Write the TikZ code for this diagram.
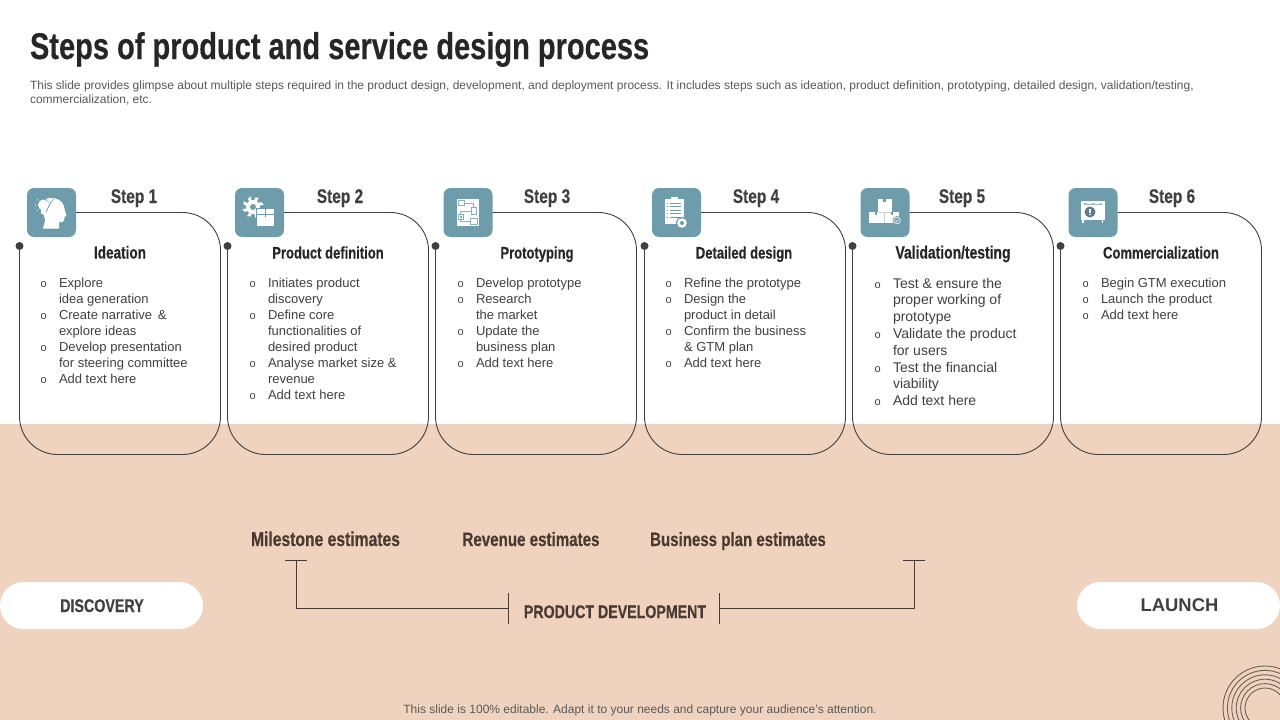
\documentclass[tikz,border=0pt]{standalone}
\usepackage{fontspec}
\setmainfont{Liberation Sans}
\newfontfamily\cond[FakeStretch=0.78,FakeBold=0.35]{Liberation Sans}
\definecolor{peach}{HTML}{EFD3BF}
\definecolor{teal1}{HTML}{6F9CAB}
\definecolor{ink}{HTML}{404040}
\definecolor{dark}{HTML}{262626}
\definecolor{brown}{HTML}{4A3A33}
\definecolor{soft}{HTML}{595959}
\tikzset{
  x=1pt,y=-1pt,
  txt/.style={inner sep=0pt,outer sep=0pt},
  iconbox/.style={txt,fill=teal1,rounded corners=7pt,minimum width=49pt,minimum height=49pt,anchor=north west},
  dotn/.style={txt,circle,fill=ink,minimum size=8pt},
  cardline/.style={draw=ink,line width=0.9pt,rounded corners=38pt},
  steplabel/.style={txt,anchor=base,text=ink,font=\cond\bfseries\fontsize{19.8}{20}\selectfont},
  headlabel/.style={txt,anchor=base,text=dark,font=\cond\bfseries\fontsize{16.7}{18}\selectfont},
  listtext/.style={txt,anchor=north west,align=left,text=ink,font=\fontsize{13}{16}\selectfont},
  bigtext/.style={txt,anchor=north west,align=left,text=ink,font=\fontsize{14}{16.8}\selectfont},
  estlabel/.style={txt,anchor=base,text=brown},
  pill/.style={txt,fill=white,rounded corners=23.5pt,minimum width=203pt,minimum height=47pt},
  bracket/.style={draw=brown,line width=0.8pt},
  ring/.style={draw=black!55!peach,line width=0.9pt},
  it/.style={draw=teal1!80,line width=0.5pt,fill=none},
}
\newcommand\bu{\rule{0pt}{12pt}\makebox[18.5pt][l]{\fontsize{11}{11}\selectfont o}}
\newcommand\bb{\rule{0pt}{13pt}\makebox[18.5pt][l]{\fontsize{11}{11}\selectfont o}}
\newcommand\ct{\hspace*{18.5pt}}
% n, left x, icon x, step cx, head cx, heading
\newcommand\stepcard[6]{%
  \node[iconbox] (icon#1) at (#3,188) {};
  \node[dotn] (dot#1) at (#2,246) {};
  \draw[cardline] (dot#1.center) -- ++(0,208.5) -- ++(201,0) -- ++(0,-242) -- (icon#1.east);
  \node[steplabel] (step#1) at (#4,203) {Step #1};
  \node[headlabel] (head#1) at (#5,258.5) {#6};
}
\begin{document}
\begin{tikzpicture}
\clip (0,0) rectangle (1280,720);
\fill[white] (0,0) rectangle (1280,424);
\fill[peach] (0,424) rectangle (1280,720);

\node[txt,anchor=base west,text=dark,font=\cond\bfseries\fontsize{37.2}{40}\selectfont] (title) at (30,59) {Steps of product and service design process};
\node[txt,anchor=north west,align=left,text=soft,font=\fontsize{12}{14}\selectfont] (desc) at (30,81) {This slide provides glimpse about multiple steps required in the product design, development, and deployment process. It includes steps such as ideation, product definition, prototyping, detailed design, validation/testing,\\commercialization, etc.};

\stepcard{1}{19.5}{27}{134}{120}{\fontsize{17.4}{18}\selectfont Ideation}
\stepcard{2}{227.5}{235}{340}{328}{Product definition}
\stepcard{3}{435.5}{443.5}{547}{537}{Prototyping}
\stepcard{4}{644.5}{652}{756}{744}{Detailed design}
\stepcard{5}{852.5}{860.5}{962}{953}{\fontsize{17.8}{18}\selectfont Validation/testing}
\stepcard{6}{1060.5}{1068.5}{1172}{1161}{Commercialization}

\node[listtext] (list1) at (40.5,275) {\bu Explore\\\ct idea generation\\\bu Create narrative \,\&\\\ct explore ideas\\\bu Develop presentation\\\ct for steering committee\\\bu Add text here};
\node[listtext] (list2) at (249.5,275) {\bu Initiates product\\\ct discovery\\\bu Define core\\\ct functionalities of\\\ct desired product\\\bu Analyse market size \&\\\ct revenue\\\bu Add text here};
\node[listtext] (list3) at (457.5,275) {\bu Develop prototype\\\bu Research\\\ct the market\\\bu Update the\\\ct business plan\\\bu Add text here};
\node[listtext] (list4) at (665.5,275) {\bu Refine the prototype\\\bu Design the\\\ct product in detail\\\bu Confirm the business\\\ct \& GTM plan\\\bu Add text here};
\node[bigtext] (list5) at (874.5,275) {\bb Test \& ensure the\\\ct proper working of\\\ct prototype\\\bb Validate the product\\\ct for users\\\bb Test the financial\\\ct viability\\\bb Add text here};
\node[listtext] (list6) at (1082.5,275) {\bu Begin GTM execution\\\bu Launch the product\\\bu Add text here};

% icon 1: head with bulb
\begin{scope}[shift={(icon1.north west)}]
  \fill[white] (19,11) .. controls (27,8) and (37,12) .. (37.5,21) .. controls (37.5,23) and (39,25) .. (39.5,27) .. controls (39,28) and (38,28) .. (37.5,29) .. controls (37.5,32) and (37,35) .. (32,34) -- (32,40.5) -- (16,40.5) -- (18,33) .. controls (18,29) and (16,26) .. (15,23) -- (22,14) -- cycle;
  \fill[white] (16.5,17) circle (5.5);
  \fill[white] (14,22) rectangle (19,26);
  \draw[teal1,line width=0.7] (19,24) -- (24,14) -- (27,11);
  \foreach \a in {100,140,180,220,60} \fill[white] (16.5,17) ++(\a:8) circle (0.7);
\end{scope}
% icon 2: gear and box
\begin{scope}[shift={(icon2.north west)}]
  \fill[white] (18,19) circle (7);
  \foreach \a in {0,45,...,315} \fill[white] (18,19) ++(\a:0) -- ++(\a+12:9.5) -- ++(\a+90:4) -- cycle;
  \fill[teal1] (18,19) circle (3);
  \fill[teal1] (20.5,19.5) rectangle (39.5,39);
  \fill[white] (22,21) rectangle (39,38);
  \fill[teal1] (22,25.5) rectangle (39,26.3);
  \fill[teal1] (29.5,21) rectangle (31,29);
\end{scope}
% icon 3: flowchart sheet
\begin{scope}[shift={(icon3.north west)}]
  \fill[white] (13,11) rectangle (35.5,38);
  \draw[it] (14.5,12.5) rectangle (21,17.5);
  \draw[it] (28,19) rectangle (33,26);
  \draw[it] (14.5,26) rectangle (20,31);
  \draw[it] (27,30) rectangle (34,36.5);
  \draw[it] (21,15) -| (30,19);
  \draw[it] (28,23) -| (17,26);
  \draw[it] (17,31) |- (27,33);
  \fill[teal1!80] (16,27.5) rectangle (18.5,29.5);
\end{scope}
% icon 4: clipboard with badge
\begin{scope}[shift={(icon4.north west)}]
  \fill[white] (12.5,11) rectangle (32,36);
  \fill[white] (19,9) rectangle (25.5,12);
  \foreach \yy in {15,18.5,22,25.5,29} {
    \draw[teal1,line width=0.6] (18,\yy) -- (29,\yy);
    \draw[teal1,line width=0.6] (14.5,\yy) -- (16,\yy);
  }
  \fill[teal1] (30,35) circle (6);
  \fill[white] (30,35) circle (4.8);
  \fill[teal1] (30,35) circle (2);
\end{scope}
% icon 5: stacked boxes
\begin{scope}[shift={(icon5.north west)}]
  \fill[white] (17,11) rectangle (31,24);
  \fill[white] (8,24) rectangle (23.5,35);
  \fill[white] (23.5,24) rectangle (38,35);
  \draw[teal1!45,line width=0.5] (23.5,24) -- (23.5,35);
  \draw[teal1!45,line width=0.5] (17,24) -- (31,24);
  \fill[teal1] (22.8,11) rectangle (25.2,14);
  \fill[teal1] (14,24) rectangle (16.5,26.5);
  \fill[teal1] (30,24) rectangle (32.5,26.5);
  \fill[teal1] (36.5,32.5) circle (4.6);
  \draw[white,line width=0.6] (36.5,32.5) circle (3.4);
  \draw[white,line width=0.6] (35,32.7) -- (36.1,33.7) -- (38.1,31.5);
\end{scope}
% icon 6: safe
\begin{scope}[shift={(icon6.north west)}]
  \fill[white] (12.5,13) rectangle (36,32);
  \fill[white] (13.5,32) rectangle (15,35);
  \fill[white] (33,32) rectangle (34.5,35);
  \fill[teal1!70] (15,14.5) rectangle (33.5,17);
  \fill[white] (18,15) rectangle (23,16.2);
  \fill[white] (26,15) rectangle (31,16.2);
  \fill[teal1!80!black] (21.5,24) circle (5.5);
  \fill[white] (20.8,20.5) rectangle (22.2,24.5);
  \fill[white] (21.5,26.5) circle (0.9);
\end{scope}

\node[estlabel,font=\cond\bfseries\fontsize{20.1}{22}\selectfont] (est1) at (325.5,546) {Milestone estimates};
\node[estlabel,font=\cond\bfseries\fontsize{19.4}{22}\selectfont] (est2) at (531,546) {Revenue estimates};
\node[estlabel,font=\cond\bfseries\fontsize{19.3}{22}\selectfont] (est3) at (738,546) {Business plan estimates};

\node[pill] (disc) at (101.5,605.5) {};
\node[pill] (launch) at (1178.5,605.5) {};
\node[txt,anchor=base,text=ink,font=\cond\bfseries\fontsize{18.3}{20}\selectfont] (disclabel) at (102,612) {DISCOVERY};
\node[txt,anchor=base,text=ink,font=\bfseries\fontsize{18.4}{22}\selectfont] (launchlabel) at (1179.5,611.5) {LAUNCH};

\node[txt,minimum width=211pt,minimum height=31pt] (prod) at (613.5,608.5) {};
\node[txt,anchor=base,text=brown,font=\cond\bfseries\fontsize{18.2}{20}\selectfont] (prodlabel) at (615,618) {PRODUCT DEVELOPMENT};
\coordinate (tl) at (296,560.5);
\coordinate (tr) at (914,560.5);
\draw[bracket] (prod.north west) -- (prod.south west);
\draw[bracket] (prod.north east) -- (prod.south east);
\draw[bracket] (prod.west) -| (tl);
\draw[bracket] (prod.east) -| (tr);
\draw[bracket] ([xshift=-11pt]tl) -- ([xshift=11pt]tl);
\draw[bracket] ([xshift=-11pt]tr) -- ([xshift=11pt]tr);

\node[txt,anchor=base,text=soft,font=\fontsize{12}{14}\selectfont] (foot) at (640,713) {This slide is 100\% editable. Adapt it to your needs and capture your audience's attention.};

\foreach \r in {20,24.4,28.8,33.2,37.6,42} \draw[ring] (1265,708) circle (\r);
\end{tikzpicture}
\end{document}
